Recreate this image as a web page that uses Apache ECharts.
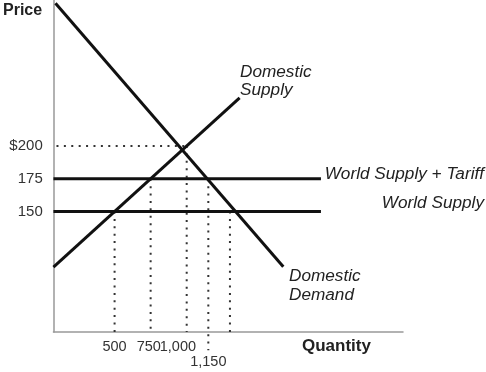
<!DOCTYPE html>
<html><head><meta charset="utf-8">
<script src="https://cdn.jsdelivr.net/npm/echarts@6/dist/echarts.min.js"></script>
<style>html,body{margin:0;padding:0;background:#fff}#c{width:486px;height:372px}</style>
</head><body><div id="c"></div>
<script>
// ---- data ----
const priceTicks = [150, 175, 200];
const quantityTicks = [500, 750, 1000, 1150, 1300];
const domesticSupply = [[76, 107.6], [1367, 236.7]];
const domesticDemand = [[90, 309], [1670, 107.8]];
const worldSupply = [[76, 150], [1931, 150]];
const worldSupplyTariff = [[76, 175], [1931, 175]];
const priceGuide200 = [[97, 200], [1000, 200]];
const drop500 = [[500, 150], [500, 58]];
const drop750 = [[750, 175], [750, 58]];
const drop1000 = [[1000, 200], [1000, 58]];
const drop1150 = [[1150, 175], [1150, 44]];
const drop1300 = [[1300, 150], [1300, 58]];

const FF = '"Liberation Sans", Arial, sans-serif';
const solid = (data) => ({
  type: 'line', data, symbol: 'none', silent: true, clip: false,
  lineStyle: { color: '#111', width: 3 }
});
const dotted = (data) => ({
  type: 'line', data, symbol: 'none', silent: true, clip: false,
  lineStyle: { color: '#333', width: 2, type: [2, 5.4] }
});

const fmtQ = (v) => {
  if (v === 1000) return '{l|1,000}';
  if (v === 1300) return '{r|1,300}';
  if (v === 750) return '{m|750}';
  if (v === 1150) return '\n1,150';
  return String(v);
};
const rs = (pad) => ({ fontSize: 14.5, lineHeight: 15.5, color: '#333', fontFamily: FF, padding: pad });
const ITAL = 'italic 17.2px ' + FF;

const chart = echarts.init(document.getElementById('c'), null, { renderer: 'canvas' });
chart.setOption({
  animation: false,
  textStyle: { fontFamily: FF },
  grid: { left: 53, right: 83, top: 0, bottom: 40, containLabel: false },
  xAxis: {
    type: 'value', min: 76, max: 2500,
    axisLine: { show: true, onZero: false, lineStyle: { color: '#999', width: 1.5 } },
    axisTick: { show: false }, splitLine: { show: false },
    axisLabel: {
      customValues: quantityTicks, formatter: fmtQ,
      fontSize: 14.5, lineHeight: 15.5, color: '#333', margin: 6.75, fontFamily: FF,
      rich: { l: rs([0, 17.6, 0, 0]), r: rs([0, 0, 0, 7.2]), m: rs([0, 3.8, 0, 0]) }
    }
  },
  yAxis: {
    type: 'value', min: 58, max: 311.5,
    axisLine: { show: true, onZero: false, lineStyle: { color: '#999', width: 1.5 } },
    axisTick: { show: false }, splitLine: { show: false },
    axisLabel: {
      customValues: priceTicks, formatter: (v) => v === 200 ? '$200' : String(v),
      fontSize: 15, color: '#333', margin: 10.7, fontFamily: FF
    },
    name: 'Price', nameLocation: 'end', nameGap: -10.8,
    nameTextStyle: { fontSize: 16, fontWeight: 'bold', color: '#222', align: 'right', verticalAlign: 'middle', padding: [0, 11.3, 0, 0], fontFamily: FF }
  },
  series: [
    dotted(priceGuide200), dotted(drop500), dotted(drop750), dotted(drop1000), dotted(drop1150), dotted(drop1300),
    solid(worldSupply), solid(worldSupplyTariff), solid(domesticSupply), solid(domesticDemand)
  ],
  graphic: [
    { type: 'text', x: 302, y: 346, style: { text: 'Quantity', font: 'bold 17px ' + FF, fill: '#222', align: 'left', verticalAlign: 'middle' } },
    { type: 'text', x: 240, y: 62.5, style: { text: 'Domestic\nSupply', font: ITAL, fill: '#222', lineHeight: 18.5, align: 'left', verticalAlign: 'top' } },
    { type: 'text', x: 289, y: 267.3, style: { text: 'Domestic\nDemand', font: ITAL, fill: '#222', lineHeight: 18.7, align: 'left', verticalAlign: 'top' } },
    { type: 'text', x: 484, y: 174.5, style: { text: 'World Supply + Tariff', font: ITAL, fill: '#222', align: 'right', verticalAlign: 'middle' } },
    { type: 'text', x: 484, y: 203, style: { text: 'World Supply', font: ITAL, fill: '#222', align: 'right', verticalAlign: 'middle' } }
  ]
});
</script></body></html>
